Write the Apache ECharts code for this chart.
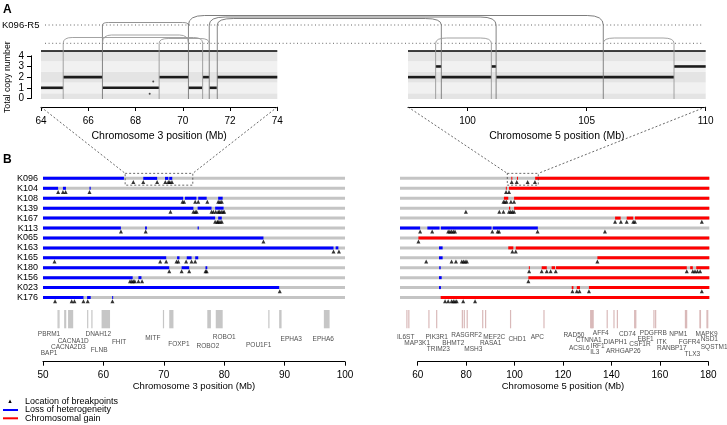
<!DOCTYPE html>
<html><head><meta charset="utf-8">
<script src="https://cdn.jsdelivr.net/npm/echarts@6/dist/echarts.min.js"></script>
<style>html,body{margin:0;padding:0;background:#fff}#c{width:727px;height:425px}</style>
</head><body><div id="c"></div>
<script>
// ================= DATA =================
const samples = ['K096','K104','K108','K139','K167','K113','K065','K163','K165','K180','K156','K023','K176'];

// tick labels
const ticksA3 = [64,66,68,70,72,74];
const ticksA5 = [100,105,110];
const ticksCN = [0,1,2,3,4];
const ticksB3 = [50,60,70,80,90,100];
const ticksB5 = [60,80,100,120,140,160,180];

// Panel A: copy number segments [start Mb, end Mb, copy number]
const cnChr3 = [[64.0,64.94,1],[64.94,66.6,2],[66.6,69.0,1],[69.0,70.24,2],[70.24,70.82,1],[70.85,71.12,2],[71.13,71.44,1],[71.46,74.0,2]];
const cnChr5 = [[97.5,98.66,2],[98.66,98.9,3],[98.9,101.0,2],[101.0,101.2,3],[101.2,108.67,2],[108.67,110.0,3]];
const cnOutliers3 = [[68.6,0.45],[68.75,1.6]];

// Panel A: rearrangement arcs (K096-R5)
const arcsLower3 = [[64.94,70.84],[66.6,70.24],[69.0,71.12]];
const arcsLower5 = [[98.66,101.0],[105.7,108.67]];
const arcsUpper3 = [[66.6,70.24]];
const arcsInter = [[71.46,98.9],[71.12,101.2],[70.24,105.7]];   // chr3 -> chr5

// Panel B: chromosome 3 loss of heterozygosity segments per sample
const loh3 = [
  [[50,63.4],[66.6,68.9],[70.2,70.75],[70.9,71.4]],
  [[50,52.5],[53.3,53.8],[57.7,57.9]],
  [[50,73.2],[73.5,75.4],[75.7,77.1],[79.0,79.75]],
  [[50,74.9],[75.6,77.9],[78.5,79.9]],
  [[50,78.5],[79.0,79.6]],
  [[50,62.9],[66.9,67.2],[75.6,75.8]],
  [[50,86.5]],
  [[50,98.1],[98.45,98.9]],
  [[50,70.4],[72.2,72.6],[73.8,74.6],[75.2,75.7]],
  [[50,70.9],[72.95,74.2],[76.9,77.2]],
  [[50,64.85],[65.8,66.3]],
  [[50,89.1]],
  [[50,56.7],[57.3,57.9],[61.45,61.6]]
];
// Panel B: chromosome 3 breakpoints per sample
const bp3 = [
  [64.95,66.6,68.9,70.25,70.75,71.0,71.35],
  [52.5,53.3,53.75,57.7],
  [73.1,73.35,75.2,75.7,77.2,79.0,79.3,79.6],
  [71.1,74.9,75.2,75.45,77.9,78.2,78.6,79.0,79.2,79.5,79.8,80.0],
  [78.5,78.85,79.0,79.3,79.6],
  [62.9,67.0],
  [86.5],
  [98.1,99.0],
  [51.9,69.4,70.4,72.1,72.4,73.7,74.6,75.2],
  [70.9,72.95,74.2,76.9,77.1],
  [64.4,64.7,64.95,65.2,65.8,66.4],
  [89.2],
  [52.0,54.75,55.2,56.7,57.4,61.5]
];
// Panel B: chromosome 5 LOH, gain and breakpoints per sample
const loh5 = [
  [],[],[],[],[],
  [[52.7,61.0],[64.0,69.0],[69.6,90.5],[91.0,109.6]],
  [],
  [[68.8,70.3]],
  [[68.8,70.3]],
  [[68.9,69.5]],
  [[68.8,69.9]],
  [[68.8,69.6]],
  []
];
const gain5 = [
  [[98.66,98.9],[101.0,101.2],[108.5,180.4]],
  [[96.4,96.6],[97.7,180.4]],
  [[95.6,97.4],[99.8,180.4]],
  [[97.7,98.2],[99.8,180.4]],
  [[141.5,143.8],[146.3,149.0],[149.7,180.4]],
  [],
  [[60.3,180.4]],
  [[97.4,99.5],[100.5,180.4]],
  [[134.2,180.4]],
  [[105.9,106.1],[111.2,113.3],[115.3,116.7],[117.1,171.1],[172.5,173.6],[175.0,180.4]],
  [[105.7,180.4]],
  [[123.6,124.3],[125.7,127.0],[130.7,180.4]],
  [[69.5,180.4]]
];
const bp5 = [
  [98.8,100.9,105.4,108.4],
  [96.5,97.7],
  [95.4,96.0,96.7,98.5,99.8],
  [79.9,93.7,95.4,97.7,98.4,99.1,99.8],
  [141.5,143.9,146.3,149.0,149.7,177.3],
  [61.0,66.0,72.6,73.3,74.0,74.7,75.4,90.8,93.0,93.6,109.5,137.3],
  [60.3],
  [99.1,100.5],
  [63.5,74.0,75.8,78.2,78.9,79.6,80.3,134.2],
  [106.0,111.2,113.3,114.9,117.0,171.1,173.6,174.5,175.5,176.6],
  [105.7],
  [123.9,125.7,126.8,130.7,177.3],
  [71.3,72.6,74.0,74.7,75.4,76.1,78.8,83.7]
];
const extent3 = [50,100];
const extent5 = [52.7,180.4];

// Genes: [name, start Mb, end Mb]
const genes3 = [['PBRM1',52.55,52.65],['BAP1',52.40,52.45],['CACNA1D',53.5,53.85],['CACNA2D3',54.15,55.0],['DNAH12',57.3,57.45],['FLNB',58.0,58.1],['FHIT',59.7,61.1],['MITF',69.85,69.95],['FOXP1',70.9,71.6],['ROBO2',77.2,77.8],['ROBO1',78.6,79.75],['POU1F1',87.3,87.35],['EPHA3',89.1,89.5],['EPHA6',96.5,97.45]];
const genes5 = [['IL6ST',55.3,55.4],['MAP3K1',56.1,56.2],['PIK3R1',67.6,67.7],['TRIM23',64.4,64.5],['RASGRF2',80.2,80.3],['BHMT2',78.2,78.3],['MSH3',79.0,79.1],['MEF2C',87.8,87.9],['RASA1',86.6,86.7],['CHD1',98.1,98.2],['APC',111.9,112.0],['RAD50',131.9,132.0],['CTNNA1',138.0,138.1],['ACSL6',131.2,131.3],['AFF4',132.2,132.3],['IRF1',131.6,131.7],['IL3',131.4,131.5],['DIAPH1',140.8,140.9],['ARHGAP26',142.2,142.3],['CD74',149.8,149.9],['CSF1R',149.4,149.5],['PDGFRB',149.5,149.6],['EBF1',158.0,158.1],['ITK',157.3,157.4],['RANBP17',170.3,170.4],['NPM1',170.8,170.9],['FGFR4',176.3,176.4],['TLX3',170.6,170.7],['MAPK9',179.5,179.6],['NSD1',176.5,176.6],['SQSTM1',179.2,179.3]];

// Gene label placement (layout): [label centre Mb, offset below gene track]
const labels3 = [[51.0,24],[51.0,43.7],[55.0,31],[54.2,37.3],[59.15,24],[59.3,40.3],[62.6,32.7],[68.2,28.3],[72.5,34],[77.3,36.7],[80.0,27.7],[85.7,35],[91.1,29],[96.4,29]];
const labels5 = [[55.05,27.3],[59.8,33.7],[67.85,27.3],[68.5,39.7],[80.2,25.7],[74.7,33],[83.0,39.7],[91.6,27.3],[90.1,33.7],[101.1,29.7],[109.4,27.3],[124.5,25.3],[130.6,30.7],[126.7,38],[135.6,23.7],[134.3,36.3],[133.1,42.3],[141.6,32.7],[144.9,41],[146.6,24],[151.8,34.7],[157.3,23.7],[154.1,29.3],[160.8,32.7],[164.9,38.3],[167.6,24.3],[172.2,32.7],[173.4,44],[179.3,24.3],[180.4,29.7],[182.4,37.3]];

// ================= CHART =================
const FONT = '"Liberation Sans", Arial, Helvetica, sans-serif';
const GRAY = '#c4c4c4', BLUE = '#0000ff', RED = '#ff0000';
const chart = echarts.init(document.getElementById('c'));

function flatSegs(rows){const o=[];rows.forEach((s,i)=>s.forEach(v=>o.push([v[0],v[1],i])));return o;}
function flatPts(rows){const o=[];rows.forEach((s,i)=>s.forEach(v=>o.push([v,i])));return o;}
function fullRows(ext){return samples.map((s,i)=>[ext[0],ext[1],i]);}

function segSeries(xi, data, color, h, z){
  return {type:'custom', xAxisIndex:xi, yAxisIndex:xi, data, z, silent:true, clip:false,
    encode:{x:[0,1], y:2},
    renderItem:(p, api)=>{
      const a = api.coord([api.value(0), api.value(2)]);
      const b = api.coord([api.value(1), api.value(2)]);
      return {type:'rect', shape:{x:a[0], y:a[1]-h/2, width:Math.max(b[0]-a[0],1), height:h}, style:{fill:color}};
    }};
}
function triSeries(xi, data){
  return {type:'scatter', xAxisIndex:xi, yAxisIndex:xi, data, symbol:'triangle', symbolSize:[4,4],
    symbolOffset:[0,3.6], itemStyle:{color:'#000'}, z:5, silent:true, clip:false};
}
function bandSeries(xi){
  const bands = [[-0.05,0.5],[0.5,1.5],[1.5,2.5],[2.5,3.5],[3.5,4.45]];
  return {type:'custom', xAxisIndex:xi, yAxisIndex:xi, data:bands, z:1, silent:true,
    encode:{y:[0,1]},
    renderItem:(p, api)=>{
      const cs = p.coordSys;
      const y0 = api.coord([0, api.value(0)])[1], y1 = api.coord([0, api.value(1)])[1];
      const children = [{type:'rect', shape:{x:cs.x, y:y1, width:cs.width, height:y0-y1},
        style:{fill: p.dataIndex%2===0 ? '#e4e4e4' : '#f1f1f1'}}];
      if (p.dataIndex === bands.length-1) children.push({type:'line', shape:{x1:cs.x, y1:y1, x2:cs.x+cs.width, y2:y1}, style:{stroke:'#000', lineWidth:1.3}});
      return {type:'group', children};
    }};
}
function cnSeries(xi, data){
  return {type:'custom', xAxisIndex:xi, yAxisIndex:xi, data, z:3, silent:true,
    encode:{x:[0,1], y:2},
    renderItem:(p, api)=>{
      const a = api.coord([api.value(0), api.value(2)]);
      const b = api.coord([api.value(1), api.value(2)]);
      return {type:'rect', shape:{x:a[0], y:a[1]-1.3, width:b[0]-a[0], height:2.6}, style:{fill:'#1c1c1c'}};
    }};
}
function geneSeries(xi, data, color){
  return {type:'custom', xAxisIndex:xi, yAxisIndex:xi, data:data.map(g=>[g[1],g[2]]), z:2, silent:true, clip:false,
    encode:{x:[0,1]},
    renderItem:(p, api)=>{
      const a = api.coord([api.value(0), 0]);
      const b = api.coord([api.value(1), 18.3]);
      return {type:'rect', shape:{x:a[0], y:a[1], width:Math.max(b[0]-a[0],1.2), height:b[1]-a[1]}, style:{fill:color}};
    }};
}
function labelSeries(xi, genes, layout){
  return {type:'scatter', xAxisIndex:xi, yAxisIndex:xi, symbolSize:0, silent:true, clip:false,
    data: genes.map((g,i)=>({value:[layout[i][0], layout[i][1]], name:g[0]})),
    label:{show:true, position:'inside', formatter:p=>p.name, fontSize:6.5, color:'#222', fontFamily:FONT}};
}
function visX(g, min, max, ticks, name, offset, fs, nfs, gap, margin){
  return {type:'value', gridIndex:g, min, max, position:'bottom', offset,
    axisLine:{show:true, onZero:false, lineStyle:{color:'#000', width:1}},
    axisTick:{show:true, length:4, customValues:ticks, lineStyle:{color:'#000'}},
    axisLabel:{customValues:ticks, fontSize:fs, color:'#000', margin},
    splitLine:{show:false}, name, nameLocation:'middle', nameGap:gap,
    nameTextStyle:{fontSize:nfs, color:'#000'}};
}
function hidX(g, min, max){return {type:'value', gridIndex:g, min, max, show:false, splitLine:{show:false}};}
function hidY(g, min, max, inverse){return {type:'value', gridIndex:g, min, max, inverse:!!inverse, show:false, splitLine:{show:false}};}

const option = {
  animation:false,
  textStyle:{fontFamily:FONT, color:'#000'},
  grid:[
    {left:41, top:51, width:236.3, height:48},
    {left:41, top:55.8, width:236.3, height:42.67},
    {left:408, top:51, width:297.7, height:48},
    {left:43, top:173.4, width:302, height:129.1},
    {left:43, top:310, width:302, height:51.7},
    {left:400, top:173.4, width:309.3, height:129.1},
    {left:400, top:310, width:309.3, height:51.7},
    {left:417.7, top:310, width:290.6, height:51.7}
  ],
  xAxis:[
    visX(0, 64, 74, ticksA3, 'Chromosome 3 position (Mb)', 8, 10, 10.5, 24, 9),
    hidX(1, 64, 74),
    visX(2, 97.5, 110, ticksA5, 'Chromosome 5 position (Mb)', 8, 10, 10.5, 24, 9),
    hidX(3, 50, 100),
    visX(4, 50, 100, ticksB3, 'Chromosome 3 position (Mb)', 0, 10, 9.5, 20, 9),
    hidX(5, extent5[0], extent5[1]),
    hidX(6, extent5[0], extent5[1]),
    visX(7, 60, 180, ticksB5, 'Chromosome 5 position (Mb)', 0, 10, 9.5, 20, 9)
  ],
  yAxis:[
    hidY(0, -0.05, 4.45),
    {type:'value', gridIndex:1, min:0, max:4, offset:10,
      axisLine:{show:true, lineStyle:{color:'#000'}},
      axisTick:{show:true, length:4, customValues:ticksCN, lineStyle:{color:'#000'}},
      axisLabel:{customValues:ticksCN, fontSize:10, color:'#000', margin:7},
      splitLine:{show:false}, name:'Total copy number', nameLocation:'middle', nameRotate:90, nameGap:19,
      nameTextStyle:{fontSize:8.8, color:'#000'}},
    hidY(2, -0.05, 4.45),
    {type:'category', gridIndex:3, data:samples, inverse:true, axisLine:{show:false}, axisTick:{show:false},
      axisLabel:{fontSize:9, color:'#000', margin:5, interval:0}, splitLine:{show:false}},
    hidY(4, 0, 51.7, true),
    {type:'category', gridIndex:5, data:samples, inverse:true, show:false},
    hidY(6, 0, 51.7, true),
    hidY(7, 0, 1)
  ],
  series:[
    bandSeries(0), cnSeries(0, cnChr3),
    {type:'scatter', xAxisIndex:0, yAxisIndex:0, data:cnOutliers3, symbolSize:2, itemStyle:{color:'#222'}, z:3, silent:true},
    bandSeries(2), cnSeries(2, cnChr5),
    segSeries(3, fullRows(extent3), GRAY, 3, 2),
    segSeries(3, flatSegs(loh3), BLUE, 3, 3),
    triSeries(3, flatPts(bp3)),
    segSeries(5, fullRows(extent5), GRAY, 3, 2),
    segSeries(5, flatSegs(gain5), RED, 3, 3),
    segSeries(5, flatSegs(loh5), BLUE, 3, 3),
    triSeries(5, flatPts(bp5)),
    geneSeries(4, genes3, '#c6c6c6'),
    labelSeries(4, genes3, labels3),
    geneSeries(6, genes5, '#d9b9b9'),
    labelSeries(6, genes5, labels5)
  ]
};
chart.setOption(option);

// ---------- decorations computed through the axes ----------
const X = (i,v)=>chart.convertToPixel({xAxisIndex:i}, v);
const Y = (i,v)=>chart.convertToPixel({yAxisIndex:i}, v);
const ROW_UP = 25, ROW_LOW = 43.3;
const boxBottom = Y(0, -0.05);
const axisYA = boxBottom + 8;
const G = [];
const txt = (x,y,t,fs,extra)=>G.push({type:'text', x, y, style:Object.assign({text:t, font:fs+'px '+FONT, fill:'#000', textVerticalAlign:'middle'}, extra||{}), z:10});
const line = (x1,y1,x2,y2,st)=>G.push({type:'line', shape:{x1,y1,x2,y2}, style:Object.assign({stroke:'#888', lineWidth:0.9}, st||{}), z:10, silent:true});
const bez = (x1,y1,cx,cy,x2,y2,st)=>G.push({type:'bezierCurve', shape:{x1,y1,x2,y2,cpx1:cx,cpy1:cy}, style:Object.assign({stroke:'#888', lineWidth:0.9, fill:null}, st||{}), z:10, silent:true});
function arc(xa, xb, base, top, rx, st){
  rx = Math.min(rx, (xb-xa)/2);
  bez(xa, base, xa, top, xa+rx, top, st);
  line(xa+rx, top, xb-rx, top, st);
  bez(xb-rx, top, xb, top, xb, base, st);
}
txt(3, 10, 'A', 14, {fontWeight:'bold', font:'bold 14px '+FONT});
txt(3, 160, 'B', 14, {fontWeight:'bold', font:'bold 14px '+FONT});
txt(2, 25, 'K096-R5', 9.5);
line(45, ROW_UP, 703, ROW_UP, {stroke:'#555', lineDash:[1,2.6], lineWidth:0.9});
line(45, ROW_LOW, 703, ROW_LOW, {stroke:'#555', lineDash:[1,2.6], lineWidth:0.9});

// vertical breakpoint lines
const upper3 = new Set(), upper5 = new Set(), lower3 = new Set(), lower5 = new Set();
arcsUpper3.forEach(a=>{upper3.add(a[0]);upper3.add(a[1]);});
arcsInter.forEach(a=>{upper3.add(a[0]);upper5.add(a[1]);});
arcsLower3.forEach(a=>{lower3.add(a[0]);lower3.add(a[1]);});
arcsLower5.forEach(a=>{lower5.add(a[0]);lower5.add(a[1]);});
upper3.forEach(v=>line(X(0,v), boxBottom, X(0,v), ROW_UP, {stroke:'#777'}));
upper5.forEach(v=>line(X(2,v), boxBottom, X(2,v), ROW_UP, {stroke:'#777'}));
lower3.forEach(v=>{ if(!upper3.has(v)) line(X(0,v), boxBottom, X(0,v), ROW_LOW, {stroke:'#999'}); });
lower5.forEach(v=>{ if(!upper5.has(v)) line(X(2,v), boxBottom, X(2,v), ROW_LOW, {stroke:'#999'}); });
// arcs
const lowTops = [37.5, 35, 38.5];
arcsLower3.forEach((a,i)=>arc(X(0,a[0]), X(0,a[1]), ROW_LOW, lowTops[i], 9, {stroke:'#999'}));
arcsLower5.forEach((a)=>arc(X(2,a[0]), X(2,a[1]), ROW_LOW, 38, 11, {stroke:'#999'}));
arcsUpper3.forEach((a)=>arc(X(0,a[0]), X(0,a[1]), ROW_UP, 22.5, 6, {stroke:'#888'}));
const interTops = [18.5, 17, 15.5];
arcsInter.forEach((a,i)=>arc(X(0,a[0]), X(2,a[1]), ROW_UP, interTops[i], 16, {stroke:'#6e6e6e'}));

// zoom indicators
const dash = {stroke:'#444', lineDash:[2,2], lineWidth:0.8};
const r0 = Y(3, 0);
const bx3 = [X(3,63.6), X(3,74.8)], bx5 = [X(5,97.0), X(5,109.8)];
const bTop = r0-5, bBot = r0+6.8;
[[bx3,[X(0,64),X(0,74)]],[bx5,[X(2,97.5),X(2,110)]]].forEach(([b,a])=>{
  G.push({type:'rect', shape:{x:b[0], y:bTop, width:b[1]-b[0], height:bBot-bTop}, style:Object.assign({fill:null}, dash), z:10, silent:true});
  line(a[0], axisYA, b[0], bTop, dash);
  line(a[1], axisYA, b[1], bTop, dash);
});

// legend
G.push({type:'polygon', shape:{points:[[8.3,403],[11.7,403],[10,399.6]]}, style:{fill:'#000'}, z:10});
txt(25, 401.5, 'Location of breakpoints', 9);
line(3, 410, 18, 410, {stroke:BLUE, lineWidth:2});
txt(25, 410, 'Loss of heterogeneity', 9);
line(3, 418.3, 18, 418.3, {stroke:RED, lineWidth:2});
txt(25, 418.5, 'Chromosomal gain', 9);

chart.setOption({graphic:G});
</script></body></html>
